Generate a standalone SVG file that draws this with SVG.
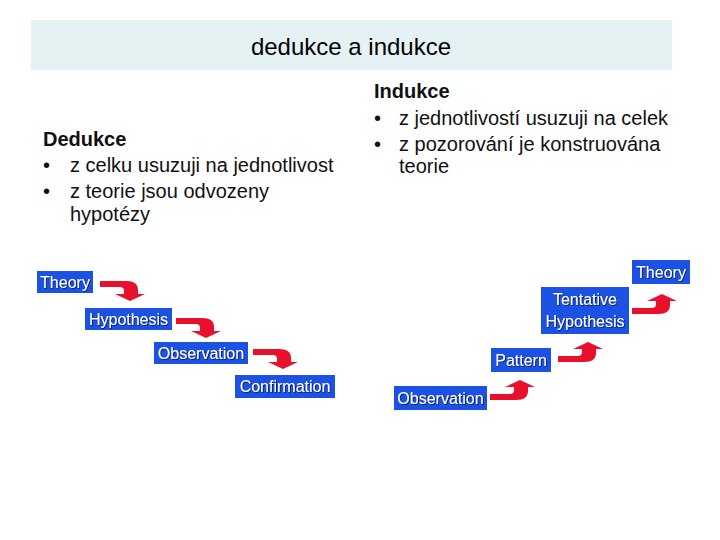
<svg xmlns="http://www.w3.org/2000/svg" xmlns:xlink="http://www.w3.org/1999/xlink" width="720" height="540" viewBox="0 0 720 540">
<style>
.title{font-family:"Liberation Sans",Arial,sans-serif;font-size:24px;fill:#000}
.body{font-family:"Liberation Sans",Arial,sans-serif;font-size:20px;fill:#111}
.head{font-weight:bold}
.box{fill:#1b52e4}
.lbl{font-family:"Liberation Sans",Arial,sans-serif;font-size:16px;fill:#fff;text-anchor:middle;filter:url(#sh)}
.arr{fill:#e8102c}
</style>
<defs>
<filter id="sh" x="-10%" y="-30%" width="120%" height="160%">
<feDropShadow dx="0.8" dy="0.8" stdDeviation="0.3" flood-color="#001040" flood-opacity="0.9"/>
</filter>
<path id="bent" d="M0,0 H26 Q38,0 38,9 V13 H45 L30,20 L15,13 H24 V10 Q24,6 20,6 H0 Z"/>
</defs>
<rect x="31" y="20" width="641" height="50" fill="#e4f2f4"/>
<text class="title" x="351" y="55" text-anchor="middle">dedukce a indukce</text>
<g id="deduction-text" class="body">
<text class="head" x="43" y="146">Dedukce</text>
<text x="43" y="172">•</text><text x="70" y="172">z celku usuzuji na jednotlivost</text>
<text x="43" y="198">•</text><text x="70" y="198">z teorie jsou odvozeny</text>
<text x="70" y="221">hypotézy</text>
</g>
<g id="induction-text" class="body">
<text class="head" x="374" y="98">Indukce</text>
<text x="374" y="125">•</text><text x="399" y="125">z jednotlivostí usuzuji na celek</text>
<text x="374" y="151">•</text><text x="399" y="151">z pozorování je konstruována</text>
<text x="399" y="173">teorie</text>
</g>
<g id="connectors" class="arr">
<use xlink:href="#bent" transform="translate(100,281)"/>
<use xlink:href="#bent" transform="translate(176,318)"/>
<use xlink:href="#bent" transform="translate(253,349)"/>
<use xlink:href="#bent" transform="translate(490,400) scale(1,-1)"/>
<use xlink:href="#bent" transform="translate(558,362) scale(1,-1)"/>
<use xlink:href="#bent" transform="translate(632,314) scale(1,-1)"/>
</g>
<g id="d-theory"><rect class="box" x="37" y="271" width="56" height="22"/><text class="lbl" x="65" y="288">Theory</text></g>
<g id="d-hypothesis"><rect class="box" x="85" y="308" width="87" height="22"/><text class="lbl" x="128.5" y="325">Hypothesis</text></g>
<g id="d-observation"><rect class="box" x="154" y="342" width="94" height="22"/><text class="lbl" x="201" y="359">Observation</text></g>
<g id="d-confirmation"><rect class="box" x="235" y="375" width="100" height="23"/><text class="lbl" x="285" y="392">Confirmation</text></g>
<g id="i-observation"><rect class="box" x="394" y="386" width="93" height="24"/><text class="lbl" x="440.5" y="404">Observation</text></g>
<g id="i-pattern"><rect class="box" x="491" y="348" width="60" height="24"/><text class="lbl" x="521" y="366">Pattern</text></g>
<g id="i-tentative"><rect class="box" x="541" y="287" width="88" height="47"/><text class="lbl" x="585" y="305">Tentative</text><text class="lbl" x="585" y="327">Hypothesis</text></g>
<g id="i-theory"><rect class="box" x="632" y="260" width="58" height="24"/><text class="lbl" x="661" y="278">Theory</text></g>
</svg>
